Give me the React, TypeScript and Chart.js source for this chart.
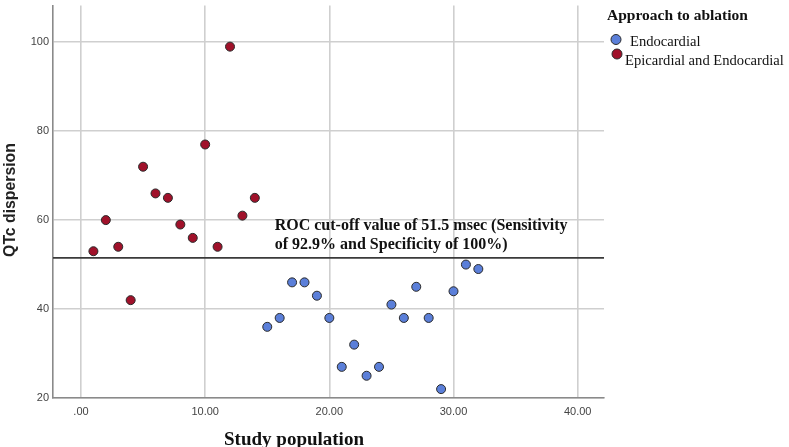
import React, { useEffect, useRef } from "react";
import { Chart, registerables } from "chart.js";

Chart.register(...registerables);

const endoX = [15, 16, 17, 18, 19, 20, 21, 22, 23, 24, 25, 26, 27, 28, 29, 30, 31, 32];
const endoY = [36, 38, 46, 46, 43, 38, 27, 32, 25, 27, 41, 38, 45, 38, 22, 44, 50, 49];
const epiX = [1, 2, 3, 4, 5, 6, 7, 8, 9, 10, 11, 12, 13, 14];
const epiY = [53, 60, 54, 42, 72, 66, 65, 59, 56, 77, 54, 99, 61, 65];
const xTicks = [0, 10, 20, 30, 40];
const yTicks = [20, 40, 60, 80, 100];
const cutoff = 51.5;
const cutoffLabel = ["ROC cut-off value of 51.5 msec (Sensitivity", "of 92.9% and Specificity of 100%)"];
const legendTitle = "Approach to ablation";
const seriesNames = ["Endocardial", "Epicardial and Endocardial"];
const seriesColors = ["#5b7fd9", "#a0112a"];
const xTitle = "Study population";
const yTitle = "QTc dispersion";

const SERIF = '"Liberation Serif", "Times New Roman", serif';
const SANS = '"Liberation Sans", Arial, sans-serif';

const overlay = {
  id: "overlay",
  beforeDatasetsDraw(chart: any) {
    const { ctx, chartArea, scales } = chart;
    const y = scales.y.getPixelForValue(cutoff);
    ctx.save();
    ctx.strokeStyle = "#3a3a3a";
    ctx.lineWidth = 1.6;
    ctx.beginPath();
    ctx.moveTo(chartArea.left, y);
    ctx.lineTo(chartArea.right, y);
    ctx.stroke();
    ctx.restore();
  },
  afterDraw(chart: any) {
    const { ctx, scales } = chart;
    ctx.save();
    // annotation
    ctx.fillStyle = "#111";
    ctx.font = `bold 16px ${SERIF}`;
    ctx.textAlign = "left";
    ctx.textBaseline = "alphabetic";
    const ax = scales.x.getPixelForValue(15.6);
    const ay = scales.y.getPixelForValue(cutoff);
    ctx.fillText(cutoffLabel[0], ax, ay - 28);
    ctx.fillText(cutoffLabel[1], ax, ay - 9);

    // x title
    ctx.font = `bold 19px ${SERIF}`;
    ctx.textAlign = "center";
    ctx.fillStyle = "#111";
    ctx.fillText(xTitle, 294, 445);

    // y title
    ctx.save();
    ctx.translate(15, 200);
    ctx.rotate(-Math.PI / 2);
    ctx.font = `bold 15.8px ${SANS}`;
    ctx.fillStyle = "#222";
    ctx.textAlign = "center";
    ctx.fillText(yTitle, 0, 0);
    ctx.restore();

    // legend
    ctx.textAlign = "left";
    ctx.fillStyle = "#111";
    ctx.font = `bold 15.5px ${SERIF}`;
    ctx.fillText(legendTitle, 607, 20);
    ctx.font = `14.6px ${SERIF}`;
    const items = [
      { cx: 616, cy: 39.5, tx: 630, ty: 46 },
      { cx: 617, cy: 54, tx: 625, ty: 65 },
    ];
    items.forEach((it, i) => {
      ctx.beginPath();
      ctx.arc(it.cx, it.cy, 5, 0, Math.PI * 2);
      ctx.fillStyle = seriesColors[i];
      ctx.fill();
      ctx.lineWidth = 1;
      ctx.strokeStyle = "#2a2a2a";
      ctx.stroke();
      ctx.fillStyle = "#111";
      ctx.fillText(seriesNames[i], it.tx, it.ty);
    });
    ctx.restore();
  },
};

export default function App() {
  const ref = useRef<HTMLCanvasElement | null>(null);
  useEffect(() => {
    if (!ref.current) return;
    const chart = new Chart(ref.current, {
      type: "scatter",
      data: {
        datasets: [
          {
            label: seriesNames[0],
            data: endoX.map((x, i) => ({ x, y: endoY[i] })),
            backgroundColor: seriesColors[0],
            borderColor: "#2a2a2a",
            borderWidth: 1,
            pointRadius: 4.5,
          },
          {
            label: seriesNames[1],
            data: epiX.map((x, i) => ({ x, y: epiY[i] })),
            backgroundColor: seriesColors[1],
            borderColor: "#2a2a2a",
            borderWidth: 1,
            pointRadius: 4.5,
          },
        ],
      },
      options: {
        responsive: false,
        animation: false,
        layout: { padding: { top: 4, right: 185, left: 0, bottom: 0 } },
        plugins: { legend: { display: false }, tooltip: { enabled: false }, title: { display: false } },
        scales: {
          x: {
            type: "linear",
            min: -2.255,
            max: 42.12,
            afterFit: (s: any) => {
              s.height = 49;
              s.paddingLeft = 0;
              s.paddingRight = 0;
            },
            afterBuildTicks: (s: any) => {
              s.ticks = xTicks.map((v) => ({ value: v }));
            },
            grid: { color: "#cfcfcf", lineWidth: 1.6, drawTicks: false },
            border: { color: "#8a8a8a", width: 1.6 },
            ticks: {
              padding: 7,
              color: "#444",
              font: { family: SANS, size: 11 },
              callback: (v: any) => (v === 0 ? ".00" : Number(v).toFixed(2)),
            },
          },
          y: {
            type: "linear",
            min: 20,
            max: 108.25,
            afterFit: (s: any) => {
              s.width = 53;
              s.paddingTop = 0;
              s.paddingBottom = 0;
            },
            afterBuildTicks: (s: any) => {
              s.ticks = yTicks.map((v) => ({ value: v }));
            },
            grid: { color: "#cfcfcf", lineWidth: 1.6, drawTicks: false },
            border: { color: "#8a8a8a", width: 1.6 },
            ticks: {
              padding: 4,
              color: "#444",
              font: { family: SANS, size: 11 },
              callback: (v: any) => String(v),
            },
          },
        },
      },
      plugins: [overlay],
    });
    return () => chart.destroy();
  }, []);
  return (
    <div style={{ position: "absolute", left: 0, top: 0, width: 789, height: 447, background: "#fff" }}>
      <canvas ref={ref} width={789} height={447} style={{ width: 789, height: 447 }} />
    </div>
  );
}
